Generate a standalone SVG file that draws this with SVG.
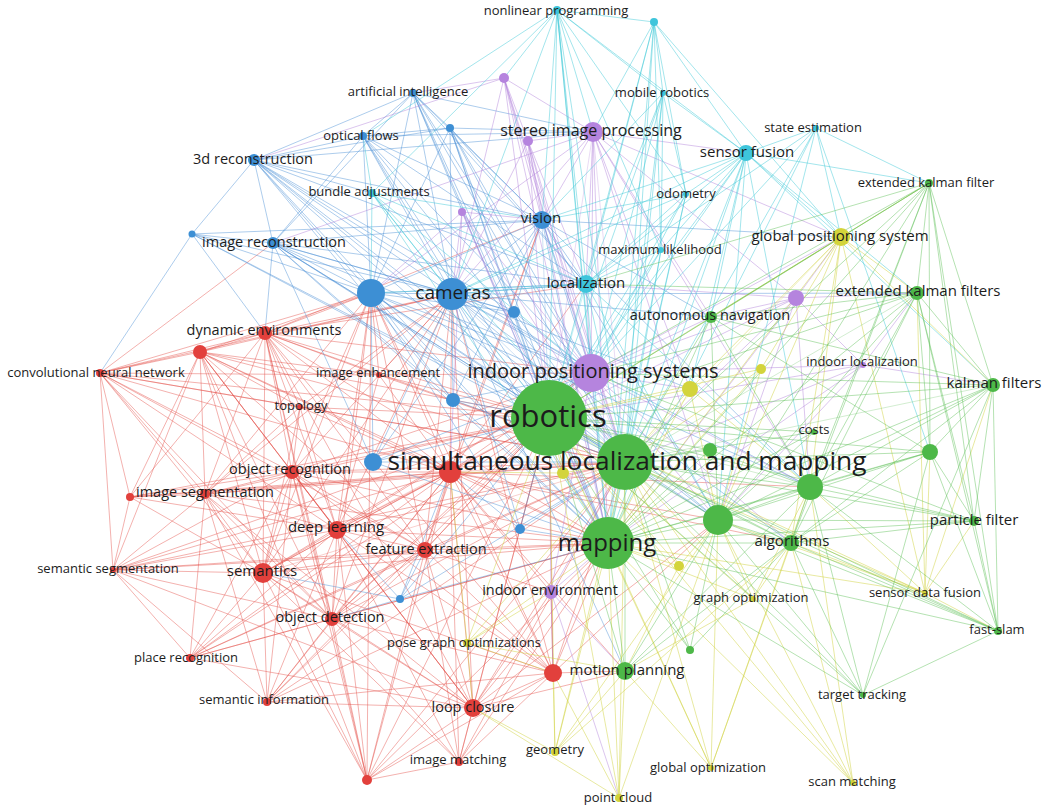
<svg xmlns="http://www.w3.org/2000/svg" width="1046" height="810" viewBox="0 0 1046 810">
<style>
.e path{fill:none;stroke-width:1}
.r path{stroke:#e5534b;stroke-opacity:.45}
.g path{stroke:#5cbf55;stroke-opacity:.45}
.b path{stroke:#4a8fd4;stroke-opacity:.45}
.y path{stroke:#cfd03a;stroke-opacity:.48}
.p path{stroke:#b07fd9;stroke-opacity:.45}
.c path{stroke:#3ec8d8;stroke-opacity:.48}
.th path{stroke-opacity:.28}
circle{stroke:none}
.nr{fill:#e2403c}.ng{fill:#4db848}.nb{fill:#3d8fd4}.ny{fill:#d3d43b}.np{fill:#b584de}.nc{fill:#3ec5db}
text{font-family:"Open Sans","Liberation Sans",sans-serif;fill:#1c1c1c;text-anchor:middle}
.t13{font-size:13px}.t14{font-size:14.5px}.t15{font-size:15px}.t16{font-size:16px}.t19{font-size:19px}.t20{font-size:20px}.t24{font-size:24px}.t26{font-size:26.3px}.t31{font-size:31px}
</style>
<rect width="1046" height="810" fill="#fff"/>
<g id="connectors" class="e">
<g class="r">
<path d="M100 373L200 352"/><path d="M100 373L265 333"/><path d="M100 373L379 375"/><path d="M100 373L292 472"/><path d="M100 373L205 494"/><path d="M100 373L130 497"/><path d="M100 373L113 570"/><path d="M100 373L337 530"/><path d="M100 373L263 573"/><path d="M100 373L332 619"/><path d="M100 373L450 472"/><path d="M100 373L549 418"/><path d="M100 373L625 462"/><path d="M100 373L300 407"/><path d="M100 373L425 550"/><path d="M100 373L273 243"/><path d="M100 373L452 294"/><path d="M100 373L371 293"/>
<path d="M113 570L130 497"/><path d="M113 570L205 494"/><path d="M113 570L263 573"/><path d="M113 570L337 530"/><path d="M113 570L292 472"/><path d="M113 570L332 619"/><path d="M113 570L190 658"/><path d="M113 570L267 702"/><path d="M113 570L450 472"/><path d="M113 570L549 418"/><path d="M113 570L625 462"/><path d="M113 570L608 543"/><path d="M113 570L425 550"/><path d="M113 570L200 352"/>
<path d="M190 658L263 573"/><path d="M190 658L337 530"/><path d="M190 658L332 619"/><path d="M190 658L205 494"/><path d="M190 658L450 472"/><path d="M190 658L625 462"/><path d="M190 658L549 418"/><path d="M190 658L473 708"/><path d="M190 658L425 550"/><path d="M190 658L608 543"/><path d="M190 658L292 472"/>
<path d="M267 702L263 573"/><path d="M267 702L332 619"/><path d="M267 702L337 530"/><path d="M267 702L205 494"/><path d="M267 702L450 472"/><path d="M267 702L549 418"/><path d="M267 702L625 462"/><path d="M267 702L292 472"/><path d="M267 702L425 550"/><path d="M267 702L473 708"/><path d="M267 702L608 543"/><path d="M267 702L553 673"/>
<path d="M367 780L263 573"/><path d="M367 780L337 530"/><path d="M367 780L332 619"/><path d="M367 780L450 472"/><path d="M367 780L549 418"/><path d="M367 780L625 462"/><path d="M367 780L608 543"/><path d="M367 780L425 550"/><path d="M367 780L473 708"/><path d="M367 780L459 762"/><path d="M367 780L205 494"/><path d="M367 780L292 472"/><path d="M367 780L200 352"/><path d="M367 780L371 293"/><path d="M367 780L553 673"/><path d="M367 780L265 333"/>
<path d="M459 762L473 708"/><path d="M459 762L450 472"/><path d="M459 762L625 462"/><path d="M459 762L549 418"/><path d="M459 762L608 543"/><path d="M459 762L425 550"/><path d="M459 762L332 619"/><path d="M459 762L337 530"/><path d="M459 762L263 573"/><path d="M459 762L553 673"/>
<path d="M473 708L450 472"/><path d="M473 708L625 462"/><path d="M473 708L549 418"/><path d="M473 708L608 543"/><path d="M473 708L425 550"/><path d="M473 708L337 530"/><path d="M473 708L332 619"/><path d="M473 708L263 573"/><path d="M473 708L553 673"/><path d="M473 708L625 671"/><path d="M473 708L551 592"/><path d="M473 708L452 294"/><path d="M473 708L200 352"/><path d="M473 708L265 333"/><path d="M473 708L292 472"/><path d="M473 708L113 570"/><path d="M473 708L205 494"/><path d="M473 708L718 520"/>
<path d="M553 673L625 462"/><path d="M553 673L549 418"/><path d="M553 673L608 543"/><path d="M553 673L450 472"/><path d="M553 673L337 530"/><path d="M553 673L425 550"/><path d="M553 673L332 619"/><path d="M553 673L263 573"/><path d="M553 673L625 671"/><path d="M553 673L551 592"/><path d="M553 673L452 294"/><path d="M553 673L371 293"/><path d="M553 673L292 472"/><path d="M553 673L265 333"/><path d="M553 673L718 520"/>
<path d="M332 619L263 573"/><path d="M332 619L337 530"/><path d="M332 619L450 472"/><path d="M332 619L425 550"/><path d="M332 619L292 472"/><path d="M332 619L205 494"/><path d="M332 619L549 418"/><path d="M332 619L625 462"/><path d="M332 619L608 543"/><path d="M332 619L452 294"/><path d="M332 619L591 373"/><path d="M332 619L371 293"/><path d="M332 619L265 333"/><path d="M332 619L200 352"/>
<path d="M263 573L337 530"/><path d="M263 573L450 472"/><path d="M263 573L292 472"/><path d="M263 573L205 494"/><path d="M263 573L265 333"/><path d="M263 573L200 352"/><path d="M263 573L549 418"/><path d="M263 573L608 543"/><path d="M263 573L425 550"/><path d="M263 573L452 294"/><path d="M263 573L371 293"/><path d="M263 573L591 373"/><path d="M263 573L300 407"/><path d="M263 573L130 497"/>
<path d="M337 530L450 472"/><path d="M337 530L292 472"/><path d="M337 530L205 494"/><path d="M337 530L425 550"/><path d="M337 530L265 333"/><path d="M337 530L200 352"/><path d="M337 530L625 462"/><path d="M337 530L608 543"/><path d="M337 530L452 294"/><path d="M337 530L371 293"/><path d="M337 530L591 373"/><path d="M337 530L300 407"/><path d="M337 530L379 375"/><path d="M337 530L130 497"/>
<path d="M425 550L450 472"/><path d="M425 550L549 418"/><path d="M425 550L625 462"/><path d="M425 550L608 543"/><path d="M425 550L452 294"/><path d="M425 550L371 293"/><path d="M425 550L591 373"/><path d="M425 550L265 333"/><path d="M425 550L292 472"/><path d="M425 550L551 592"/><path d="M425 550L542 220"/><path d="M425 550L200 352"/>
<path d="M205 494L292 472"/><path d="M205 494L450 472"/><path d="M205 494L200 352"/><path d="M205 494L265 333"/><path d="M205 494L130 497"/><path d="M205 494L549 418"/><path d="M205 494L625 462"/><path d="M205 494L452 294"/><path d="M205 494L371 293"/><path d="M205 494L300 407"/><path d="M205 494L608 543"/>
<path d="M130 497L200 352"/><path d="M130 497L265 333"/><path d="M130 497L292 472"/><path d="M130 497L450 472"/><path d="M130 497L549 418"/><path d="M130 497L625 462"/>
<path d="M292 472L450 472"/><path d="M292 472L265 333"/><path d="M292 472L200 352"/><path d="M292 472L549 418"/><path d="M292 472L625 462"/><path d="M292 472L608 543"/><path d="M292 472L452 294"/><path d="M292 472L371 293"/><path d="M292 472L591 373"/><path d="M292 472L300 407"/>
<path d="M300 407L450 472"/><path d="M300 407L549 418"/><path d="M300 407L625 462"/><path d="M300 407L265 333"/><path d="M300 407L200 352"/><path d="M300 407L452 294"/>
<path d="M379 375L265 333"/><path d="M379 375L200 352"/><path d="M379 375L549 418"/><path d="M379 375L625 462"/><path d="M379 375L452 294"/><path d="M379 375L371 293"/><path d="M379 375L450 472"/><path d="M379 375L591 373"/>
<path d="M265 333L200 352"/><path d="M265 333L450 472"/><path d="M265 333L549 418"/><path d="M265 333L625 462"/><path d="M265 333L608 543"/><path d="M265 333L452 294"/><path d="M265 333L371 293"/><path d="M265 333L591 373"/><path d="M265 333L542 220"/><path d="M265 333L586 284"/>
<path d="M200 352L450 472"/><path d="M200 352L549 418"/><path d="M200 352L625 462"/><path d="M200 352L608 543"/><path d="M200 352L452 294"/><path d="M200 352L371 293"/>
<path d="M450 472L608 543"/><path d="M450 472L452 294"/><path d="M450 472L371 293"/><path d="M450 472L591 373"/><path d="M450 472L542 220"/><path d="M450 472L586 284"/><path d="M450 472L551 592"/><path d="M450 472L625 671"/><path d="M450 472L718 520"/><path d="M450 472L810 487"/><path d="M450 472L791 543"/>
</g>
<g class="b">
<path d="M192 234L254 160"/><path d="M192 234L273 243"/><path d="M192 234L371 293"/><path d="M192 234L452 294"/><path d="M192 234L549 418"/><path d="M192 234L625 462"/><path d="M192 234L542 220"/><path d="M192 234L265 333"/><path d="M192 234L100 373"/>
<path d="M273 243L254 160"/><path d="M273 243L371 293"/><path d="M273 243L452 294"/><path d="M273 243L542 220"/><path d="M273 243L549 418"/><path d="M273 243L625 462"/><path d="M273 243L608 543"/><path d="M273 243L363 136"/><path d="M273 243L413 93"/><path d="M273 243L453 400"/><path d="M273 243L373 462"/><path d="M273 243L591 373"/><path d="M273 243L265 333"/><path d="M273 243L586 284"/><path d="M273 243L514 312"/><path d="M273 243L718 520"/>
<path d="M254 160L363 136"/><path d="M254 160L413 93"/><path d="M254 160L371 293"/><path d="M254 160L452 294"/><path d="M254 160L542 220"/><path d="M254 160L549 418"/><path d="M254 160L625 462"/><path d="M254 160L608 543"/><path d="M254 160L591 373"/><path d="M254 160L450 128"/><path d="M254 160L372 193"/><path d="M254 160L514 312"/><path d="M254 160L586 284"/><path d="M254 160L593 132"/><path d="M254 160L453 400"/><path d="M254 160L718 520"/>
<path d="M363 136L413 93"/><path d="M363 136L371 293"/><path d="M363 136L452 294"/><path d="M363 136L542 220"/><path d="M363 136L549 418"/><path d="M363 136L625 462"/><path d="M363 136L450 128"/><path d="M363 136L591 373"/><path d="M363 136L608 543"/><path d="M363 136L586 284"/><path d="M363 136L593 132"/>
<path d="M413 93L371 293"/><path d="M413 93L452 294"/><path d="M413 93L542 220"/><path d="M413 93L549 418"/><path d="M413 93L625 462"/><path d="M413 93L608 543"/><path d="M413 93L591 373"/><path d="M413 93L450 128"/><path d="M413 93L586 284"/><path d="M413 93L514 312"/><path d="M413 93L593 132"/>
<path d="M450 128L452 294"/><path d="M450 128L542 220"/><path d="M450 128L549 418"/><path d="M450 128L625 462"/><path d="M450 128L371 293"/><path d="M450 128L608 543"/><path d="M450 128L591 373"/><path d="M450 128L586 284"/><path d="M450 128L514 312"/><path d="M450 128L593 132"/>
<path d="M542 220L452 294"/><path d="M542 220L371 293"/><path d="M542 220L625 462"/><path d="M542 220L608 543"/><path d="M542 220L591 373"/><path d="M542 220L586 284"/><path d="M542 220L514 312"/><path d="M542 220L453 400"/><path d="M542 220L373 462"/><path d="M542 220L718 520"/><path d="M542 220L810 487"/><path d="M542 220L711 317"/><path d="M542 220L841 237"/>
<path d="M452 294L371 293"/><path d="M452 294L608 543"/><path d="M452 294L591 373"/><path d="M452 294L586 284"/><path d="M452 294L453 400"/><path d="M452 294L373 462"/><path d="M452 294L514 312"/><path d="M452 294L520 529"/><path d="M452 294L718 520"/><path d="M452 294L810 487"/><path d="M452 294L711 317"/><path d="M452 294L690 389"/><path d="M452 294L791 543"/><path d="M452 294L625 671"/><path d="M452 294L917 293"/>
<path d="M371 293L625 462"/><path d="M371 293L608 543"/><path d="M371 293L591 373"/><path d="M371 293L453 400"/><path d="M371 293L373 462"/><path d="M371 293L586 284"/><path d="M371 293L514 312"/><path d="M371 293L520 529"/><path d="M371 293L718 520"/><path d="M371 293L810 487"/>
<path d="M453 400L549 418"/><path d="M453 400L625 462"/><path d="M453 400L608 543"/><path d="M453 400L591 373"/>
<path d="M373 462L549 418"/><path d="M373 462L625 462"/><path d="M373 462L608 543"/><path d="M373 462L591 373"/>
<path d="M514 312L549 418"/><path d="M514 312L625 462"/><path d="M514 312L608 543"/><path d="M514 312L591 373"/>
<path d="M520 529L549 418"/><path d="M520 529L625 462"/><path d="M520 529L608 543"/><path d="M520 529L450 472"/>
<path d="M400 599L608 543"/><path d="M400 599L549 418"/><path d="M400 599L625 462"/><path d="M400 599L425 550"/><path d="M400 599L332 619"/><path d="M400 599L263 573"/><path d="M400 599L450 472"/><path d="M400 599L337 530"/>
</g>
<g class="p">
<path d="M504 78L593 132"/><path d="M504 78L528 141"/><path d="M504 78L542 220"/><path d="M504 78L452 294"/><path d="M504 78L549 418"/><path d="M504 78L591 373"/><path d="M504 78L625 462"/><path d="M504 78L413 93"/><path d="M504 78L608 543"/><path d="M504 78L254 160"/>
<path d="M528 141L593 132"/><path d="M528 141L542 220"/><path d="M528 141L452 294"/><path d="M528 141L549 418"/><path d="M528 141L625 462"/><path d="M528 141L591 373"/><path d="M528 141L608 543"/><path d="M528 141L586 284"/>
<path d="M593 132L542 220"/><path d="M593 132L591 373"/><path d="M593 132L608 543"/><path d="M593 132L452 294"/><path d="M593 132L586 284"/><path d="M593 132L371 293"/><path d="M593 132L746 153"/><path d="M593 132L841 237"/><path d="M593 132L718 520"/><path d="M593 132L810 487"/><path d="M593 132L796 298"/><path d="M593 132L711 317"/><path d="M593 132L273 243"/><path d="M593 132L690 389"/>
<path d="M462 212L542 220"/><path d="M462 212L549 418"/><path d="M462 212L625 462"/><path d="M462 212L591 373"/><path d="M462 212L452 294"/><path d="M462 212L608 543"/><path d="M462 212L371 293"/><path d="M462 212L450 472"/>
<path d="M591 373L608 543"/><path d="M591 373L796 298"/><path d="M591 373L551 592"/><path d="M591 373L586 284"/><path d="M591 373L841 237"/><path d="M591 373L718 520"/><path d="M591 373L810 487"/><path d="M591 373L711 317"/><path d="M591 373L690 389"/><path d="M591 373L791 543"/><path d="M591 373L863 365"/>
<path d="M796 298L549 418"/><path d="M796 298L625 462"/><path d="M796 298L608 543"/><path d="M796 298L841 237"/><path d="M796 298L917 293"/><path d="M796 298L586 284"/><path d="M796 298L863 365"/><path d="M796 298L711 317"/><path d="M796 298L718 520"/><path d="M796 298L810 487"/>
<path d="M863 365L625 462"/><path d="M863 365L549 418"/><path d="M863 365L608 543"/><path d="M863 365L993 385"/><path d="M863 365L917 293"/><path d="M863 365L718 520"/>
<path d="M551 592L608 543"/><path d="M551 592L625 462"/><path d="M551 592L549 418"/><path d="M551 592L625 671"/><path d="M551 592L553 673"/><path d="M551 592L619 798"/>
</g>
<g class="c">
<path d="M557 10L654 22"/><path d="M557 10L593 132"/><path d="M557 10L663 93"/><path d="M557 10L586 284"/><path d="M557 10L542 220"/><path d="M557 10L549 418"/><path d="M557 10L625 462"/><path d="M557 10L746 153"/><path d="M557 10L686 194"/><path d="M557 10L608 543"/><path d="M557 10L591 373"/><path d="M557 10L452 294"/><path d="M557 10L504 78"/><path d="M557 10L363 136"/><path d="M557 10L661 250"/><path d="M557 10L372 193"/>
<path d="M654 22L663 93"/><path d="M654 22L746 153"/><path d="M654 22L686 194"/><path d="M654 22L586 284"/><path d="M654 22L549 418"/><path d="M654 22L625 462"/><path d="M654 22L841 237"/><path d="M654 22L593 132"/><path d="M654 22L608 543"/><path d="M654 22L661 250"/>
<path d="M663 93L746 153"/><path d="M663 93L586 284"/><path d="M663 93L549 418"/><path d="M663 93L625 462"/><path d="M663 93L608 543"/><path d="M663 93L686 194"/><path d="M663 93L591 373"/><path d="M663 93L661 250"/><path d="M663 93L542 220"/>
<path d="M816 128L746 153"/><path d="M816 128L586 284"/><path d="M816 128L549 418"/><path d="M816 128L625 462"/><path d="M816 128L608 543"/><path d="M816 128L841 237"/><path d="M816 128L929 183"/><path d="M816 128L718 520"/><path d="M816 128L930 452"/>
<path d="M746 153L586 284"/><path d="M746 153L549 418"/><path d="M746 153L625 462"/><path d="M746 153L608 543"/><path d="M746 153L841 237"/><path d="M746 153L591 373"/><path d="M746 153L686 194"/><path d="M746 153L718 520"/><path d="M746 153L810 487"/><path d="M746 153L917 293"/><path d="M746 153L993 385"/><path d="M746 153L711 317"/><path d="M746 153L452 294"/><path d="M746 153L542 220"/><path d="M746 153L661 250"/><path d="M746 153L690 389"/><path d="M746 153L929 183"/>
<path d="M686 194L586 284"/><path d="M686 194L549 418"/><path d="M686 194L625 462"/><path d="M686 194L608 543"/><path d="M686 194L542 220"/><path d="M686 194L452 294"/><path d="M686 194L591 373"/>
<path d="M661 250L586 284"/><path d="M661 250L549 418"/><path d="M661 250L625 462"/><path d="M661 250L608 543"/><path d="M661 250L591 373"/>
<path d="M586 284L625 462"/><path d="M586 284L608 543"/><path d="M586 284L452 294"/><path d="M586 284L371 293"/><path d="M586 284L718 520"/><path d="M586 284L810 487"/>
<path d="M372 193L452 294"/><path d="M372 193L371 293"/><path d="M372 193L542 220"/><path d="M372 193L549 418"/><path d="M372 193L625 462"/><path d="M372 193L586 284"/><path d="M372 193L608 543"/><path d="M372 193L363 136"/><path d="M372 193L591 373"/>
</g>
<g class="y">
<path d="M841 237L549 418"/><path d="M841 237L608 543"/><path d="M841 237L718 520"/><path d="M841 237L810 487"/><path d="M841 237L917 293"/><path d="M841 237L929 183"/><path d="M841 237L993 385"/><path d="M841 237L690 389"/><path d="M841 237L711 317"/><path d="M841 237L925 593"/><path d="M841 237L761 369"/><path d="M841 237L791 543"/>
<path d="M690 389L549 418"/><path d="M690 389L625 462"/><path d="M690 389L608 543"/><path d="M690 389L718 520"/><path d="M690 389L810 487"/>
<path d="M761 369L549 418"/><path d="M761 369L625 462"/><path d="M761 369L608 543"/><path d="M761 369L718 520"/>
<path d="M563 473L549 418"/><path d="M563 473L625 462"/><path d="M563 473L608 543"/><path d="M563 473L450 472"/>
<path d="M679 566L608 543"/><path d="M679 566L625 462"/><path d="M679 566L549 418"/><path d="M679 566L625 671"/><path d="M679 566L718 520"/>
<path d="M753 599L608 543"/><path d="M753 599L625 462"/><path d="M753 599L549 418"/><path d="M753 599L718 520"/><path d="M753 599L810 487"/><path d="M753 599L791 543"/><path d="M753 599L625 671"/>
<path d="M925 593L718 520"/><path d="M925 593L810 487"/><path d="M925 593L791 543"/><path d="M925 593L608 543"/><path d="M925 593L625 462"/><path d="M925 593L549 418"/><path d="M925 593L993 385"/><path d="M925 593L917 293"/><path d="M925 593L974 521"/><path d="M925 593L998 631"/><path d="M925 593L930 452"/>
<path d="M467 643L608 543"/><path d="M467 643L625 462"/><path d="M467 643L549 418"/><path d="M467 643L473 708"/><path d="M467 643L553 673"/><path d="M467 643L625 671"/><path d="M467 643L551 592"/><path d="M467 643L450 472"/>
<path d="M555 752L608 543"/><path d="M555 752L625 462"/><path d="M555 752L549 418"/><path d="M555 752L625 671"/><path d="M555 752L553 673"/><path d="M555 752L473 708"/><path d="M555 752L718 520"/><path d="M555 752L791 543"/>
<path d="M711 768L608 543"/><path d="M711 768L625 462"/><path d="M711 768L549 418"/><path d="M711 768L718 520"/><path d="M711 768L625 671"/><path d="M711 768L791 543"/><path d="M711 768L810 487"/>
<path d="M619 798L608 543"/><path d="M619 798L625 462"/><path d="M619 798L549 418"/><path d="M619 798L625 671"/><path d="M619 798L553 673"/><path d="M619 798L473 708"/><path d="M619 798L718 520"/>
<path d="M853 783L718 520"/><path d="M853 783L608 543"/><path d="M853 783L625 462"/><path d="M853 783L549 418"/><path d="M853 783L791 543"/><path d="M853 783L810 487"/>
</g>
<g class="g">
<path d="M929 183L917 293"/><path d="M929 183L993 385"/><path d="M929 183L810 487"/><path d="M929 183L718 520"/><path d="M929 183L625 462"/><path d="M929 183L549 418"/><path d="M929 183L608 543"/><path d="M929 183L930 452"/><path d="M929 183L974 521"/><path d="M929 183L711 317"/><path d="M929 183L791 543"/><path d="M929 183L586 284"/><path d="M929 183L591 373"/><path d="M929 183L998 631"/>
<path d="M917 293L993 385"/><path d="M917 293L549 418"/><path d="M917 293L608 543"/><path d="M917 293L718 520"/><path d="M917 293L810 487"/><path d="M917 293L930 452"/><path d="M917 293L791 543"/><path d="M917 293L974 521"/><path d="M917 293L711 317"/><path d="M917 293L998 631"/><path d="M917 293L586 284"/><path d="M917 293L591 373"/>
<path d="M993 385L549 418"/><path d="M993 385L608 543"/><path d="M993 385L718 520"/><path d="M993 385L810 487"/><path d="M993 385L930 452"/><path d="M993 385L791 543"/><path d="M993 385L974 521"/><path d="M993 385L998 631"/><path d="M993 385L863 695"/><path d="M993 385L591 373"/><path d="M993 385L711 317"/>
<path d="M930 452L549 418"/><path d="M930 452L625 462"/><path d="M930 452L608 543"/><path d="M930 452L718 520"/><path d="M930 452L810 487"/><path d="M930 452L974 521"/><path d="M930 452L791 543"/><path d="M930 452L998 631"/><path d="M930 452L863 695"/><path d="M930 452L711 317"/>
<path d="M974 521L625 462"/><path d="M974 521L549 418"/><path d="M974 521L608 543"/><path d="M974 521L718 520"/><path d="M974 521L810 487"/><path d="M974 521L791 543"/><path d="M974 521L998 631"/><path d="M974 521L591 373"/>
<path d="M998 631L810 487"/><path d="M998 631L718 520"/><path d="M998 631L791 543"/><path d="M998 631L625 462"/><path d="M998 631L608 543"/><path d="M998 631L549 418"/><path d="M998 631L863 695"/>
<path d="M863 695L718 520"/><path d="M863 695L810 487"/><path d="M863 695L791 543"/><path d="M863 695L625 462"/><path d="M863 695L608 543"/><path d="M863 695L549 418"/>
<path d="M791 543L549 418"/><path d="M791 543L625 462"/><path d="M791 543L608 543"/><path d="M791 543L718 520"/><path d="M791 543L810 487"/>
<path d="M718 520L608 543"/><path d="M718 520L810 487"/><path d="M810 487L625 462"/><path d="M810 487L608 543"/>
<path d="M710 450L549 418"/><path d="M710 450L625 462"/><path d="M710 450L608 543"/><path d="M710 450L810 487"/>
<path d="M711 317L625 462"/><path d="M711 317L608 543"/><path d="M711 317L718 520"/><path d="M711 317L810 487"/>
<path d="M814 432L549 418"/><path d="M814 432L625 462"/><path d="M814 432L608 543"/><path d="M814 432L718 520"/>
<path d="M625 671L608 543"/><path d="M625 671L625 462"/><path d="M625 671L549 418"/><path d="M625 671L718 520"/><path d="M625 671L810 487"/><path d="M625 671L791 543"/>
<path d="M690 650L608 543"/><path d="M690 650L625 462"/><path d="M690 650L549 418"/><path d="M690 650L718 520"/><path d="M690 650L791 543"/>
</g>
<g class="g th">
<path d="M549 418L625 462" stroke-width="6"/><path d="M549 418L608 543" stroke-width="6"/><path d="M625 462L608 543" stroke-width="5"/><path d="M711 317L549 418" stroke-width="3"/><path d="M718 520L625 462" stroke-width="3"/><path d="M718 520L549 418" stroke-width="3"/><path d="M810 487L549 418" stroke-width="3"/><path d="M917 293L625 462" stroke-width="3"/><path d="M993 385L625 462" stroke-width="3"/>
</g>
<g class="p th">
<path d="M591 373L549 418" stroke-width="4"/><path d="M591 373L625 462" stroke-width="4"/><path d="M593 132L549 418" stroke-width="5"/><path d="M593 132L625 462" stroke-width="5"/>
</g>
<g class="b th">
<path d="M452 294L549 418" stroke-width="4"/><path d="M452 294L625 462" stroke-width="3"/><path d="M371 293L549 418" stroke-width="3"/><path d="M542 220L549 418" stroke-width="3"/>
</g>
<g class="r th">
<path d="M450 472L549 418" stroke-width="3"/><path d="M450 472L625 462" stroke-width="3"/><path d="M263 573L625 462" stroke-width="2.5"/><path d="M337 530L549 418" stroke-width="2.5"/>
</g>
<g class="y th"><path d="M841 237L625 462" stroke-width="3"/></g>
<g class="c th"><path d="M586 284L549 418" stroke-width="3"/></g>
</g>
<g id="nodes">
<g id="n-nonlinear-programming"><circle class="nc" cx="557" cy="10" r="4"/><text class="t13" x="556" y="15">nonlinear programming</text></g>
<g id="n-c1"><circle class="nc" cx="654" cy="22" r="4"/></g>
<g id="n-mobile-robotics"><circle class="nc" cx="663" cy="93" r="3"/><text class="t13" x="662" y="97">mobile robotics</text></g>
<g id="n-state-estimation"><circle class="nc" cx="816" cy="128" r="3"/><text class="t13" x="813" y="132">state estimation</text></g>
<g id="n-odometry"><circle class="nc" cx="686" cy="194" r="3"/><text class="t13" x="686" y="198">odometry</text></g>
<g id="n-maximum-likelihood"><circle class="nc" cx="661" cy="250" r="3"/><text class="t13" x="660" y="254">maximum likelihood</text></g>
<g id="n-bundle-adjustments"><circle class="nc" cx="372" cy="193" r="4"/><text class="t13" x="369" y="196">bundle adjustments</text></g>
<g id="n-p2"><circle class="np" cx="504" cy="78" r="5"/></g>
<g id="n-p1"><circle class="np" cx="528" cy="141" r="5"/></g>
<g id="n-p3"><circle class="np" cx="462" cy="212" r="4"/></g>
<g id="n-artificial-intelligence"><circle class="nb" cx="413" cy="93" r="4"/><text class="t13" x="408" y="96">artificial intelligence</text></g>
<g id="n-b7"><circle class="nb" cx="450" cy="128" r="4"/></g>
<g id="n-optical-flows"><circle class="nb" cx="363" cy="136" r="4"/><text class="t13" x="361" y="140">optical flows</text></g>
<g id="n-3d-reconstruction"><circle class="nb" cx="254" cy="160" r="6"/><text class="t14" x="253" y="164">3d reconstruction</text></g>
<g id="n-b8"><circle class="nb" cx="192" cy="234" r="3.5"/></g>
<g id="n-image-reconstruction"><circle class="nb" cx="273" cy="243" r="6"/><text class="t14" x="274" y="247">image reconstruction</text></g>
<g id="n-b4"><circle class="nb" cx="514" cy="312" r="6"/></g>
<g id="n-b2"><circle class="nb" cx="453" cy="400" r="7"/></g>
<g id="n-b3"><circle class="nb" cx="373" cy="462" r="9"/></g>
<g id="n-b5"><circle class="nb" cx="520" cy="529" r="5"/></g>
<g id="n-b6"><circle class="nb" cx="400" cy="599" r="4"/></g>
<g id="n-b1"><circle class="nb" cx="371" cy="293" r="14"/></g>
<g id="n-vision"><circle class="nb" cx="542" cy="220" r="9"/><text class="t15" x="541" y="223">vision</text></g>
<g id="n-stereo-image-processing"><circle class="np" cx="593" cy="132" r="10"/><text class="t16" x="591" y="136">stereo image processing</text></g>
<g id="n-sensor-fusion"><circle class="nc" cx="746" cy="153" r="8"/><text class="t15" x="747" y="157">sensor fusion</text></g>
<g id="n-localization"><circle class="nc" cx="586" cy="284" r="9"/><text class="t15" x="586" y="288">localization</text></g>
<g id="n-p4"><circle class="np" cx="796" cy="298" r="8"/></g>
<g id="n-indoor-localization"><circle class="np" cx="863" cy="365" r="3"/><text class="t13" x="862" y="366">indoor localization</text></g>
<g id="n-indoor-environment"><circle class="np" cx="551" cy="592" r="7"/><text class="t14" x="550" y="595">indoor environment</text></g>
<g id="n-global-positioning-system"><circle class="ny" cx="841" cy="237" r="9"/><text class="t15" x="840" y="241">global positioning system</text></g>
<g id="n-y1"><circle class="ny" cx="690" cy="389" r="8"/></g>
<g id="n-y2"><circle class="ny" cx="761" cy="369" r="5"/></g>
<g id="n-y3"><circle class="ny" cx="563" cy="473" r="6"/></g>
<g id="n-y4"><circle class="ny" cx="679" cy="566" r="5"/></g>
<g id="n-graph-optimization"><circle class="ny" cx="753" cy="599" r="3"/><text class="t13" x="751" y="602">graph optimization</text></g>
<g id="n-sensor-data-fusion"><circle class="ny" cx="925" cy="593" r="3"/><text class="t13" x="925" y="597">sensor data fusion</text></g>
<g id="n-pose-graph-optimizations"><circle class="ny" cx="467" cy="643" r="4"/><text class="t13" x="464" y="647">pose graph optimizations</text></g>
<g id="n-geometry"><circle class="ny" cx="555" cy="752" r="4"/><text class="t13" x="555" y="754">geometry</text></g>
<g id="n-global-optimization"><circle class="ny" cx="711" cy="768" r="3"/><text class="t13" x="708" y="772">global optimization</text></g>
<g id="n-point-cloud"><circle class="ny" cx="619" cy="798" r="4"/><text class="t13" x="618" y="802">point cloud</text></g>
<g id="n-scan-matching"><circle class="ny" cx="853" cy="783" r="3"/><text class="t13" x="852" y="786">scan matching</text></g>
<g id="n-extended-kalman-filter"><circle class="ng" cx="929" cy="183" r="4"/><text class="t13" x="926" y="187">extended kalman filter</text></g>
<g id="n-extended-kalman-filters"><circle class="ng" cx="917" cy="293" r="7"/><text class="t15" x="918" y="296">extended kalman filters</text></g>
<g id="n-autonomous-navigation"><circle class="ng" cx="711" cy="317" r="6"/><text class="t14" x="710" y="320">autonomous navigation</text></g>
<g id="n-kalman-filters"><circle class="ng" cx="993" cy="385" r="7"/><text class="t15" x="994" y="388">kalman filters</text></g>
<g id="n-g4"><circle class="ng" cx="710" cy="450" r="7"/></g>
<g id="n-g3"><circle class="ng" cx="930" cy="452" r="8"/></g>
<g id="n-costs"><circle class="ng" cx="814" cy="432" r="3"/><text class="t13" x="814" y="434">costs</text></g>
<g id="n-g2"><circle class="ng" cx="810" cy="487" r="13"/></g>
<g id="n-g1"><circle class="ng" cx="718" cy="520" r="15"/></g>
<g id="n-particle-filter"><circle class="ng" cx="974" cy="521" r="5"/><text class="t15" x="974" y="525">particle filter</text></g>
<g id="n-algorithms"><circle class="ng" cx="791" cy="543" r="8"/><text class="t15" x="792" y="546">algorithms</text></g>
<g id="n-fast-slam"><circle class="ng" cx="998" cy="631" r="4"/><text class="t13" x="997" y="634">fast-slam</text></g>
<g id="n-target-tracking"><circle class="ng" cx="863" cy="695" r="3"/><text class="t13" x="862" y="699">target tracking</text></g>
<g id="n-g5"><circle class="ng" cx="690" cy="650" r="4"/></g>
<g id="n-motion-planning"><circle class="ng" cx="625" cy="671" r="9"/><text class="t15" x="627" y="675">motion planning</text></g>
<g id="n-r5"><circle class="nr" cx="553" cy="673" r="9"/></g>
<g id="n-r1"><circle class="nr" cx="200" cy="352" r="7"/></g>
<g id="n-dynamic-environments"><circle class="nr" cx="265" cy="333" r="7"/><text class="t14" x="264" y="335">dynamic environments</text></g>
<g id="n-convolutional-neural-network"><circle class="nr" cx="100" cy="373" r="4"/><text class="t13" x="96" y="377">convolutional neural network</text></g>
<g id="n-image-enhancement"><circle class="nr" cx="379" cy="375" r="3"/><text class="t13" x="378" y="377">image enhancement</text></g>
<g id="n-topology"><circle class="nr" cx="300" cy="407" r="3"/><text class="t13" x="301" y="410">topology</text></g>
<g id="n-r2"><circle class="nr" cx="450" cy="472" r="11"/></g>
<g id="n-object-recognition"><circle class="nr" cx="292" cy="472" r="7"/><text class="t14" x="290" y="474">object recognition</text></g>
<g id="n-r3"><circle class="nr" cx="130" cy="497" r="4"/></g>
<g id="n-image-segmentation"><circle class="nr" cx="205" cy="494" r="5"/><text class="t14" x="205" y="497">image segmentation</text></g>
<g id="n-deep-learning"><circle class="nr" cx="337" cy="530" r="9"/><text class="t15" x="336" y="532">deep learning</text></g>
<g id="n-feature-extraction"><circle class="nr" cx="425" cy="550" r="8"/><text class="t14" x="426" y="554">feature extraction</text></g>
<g id="n-semantics"><circle class="nr" cx="263" cy="573" r="10"/><text class="t15" x="262" y="576">semantics</text></g>
<g id="n-semantic-segmentation"><circle class="nr" cx="113" cy="570" r="3"/><text class="t13" x="108" y="573">semantic segmentation</text></g>
<g id="n-object-detection"><circle class="nr" cx="332" cy="619" r="7"/><text class="t14" x="330" y="622">object detection</text></g>
<g id="n-place-recognition"><circle class="nr" cx="190" cy="658" r="4"/><text class="t13" x="186" y="662">place recognition</text></g>
<g id="n-semantic-information"><circle class="nr" cx="267" cy="702" r="4"/><text class="t13" x="264" y="704">semantic information</text></g>
<g id="n-loop-closure"><circle class="nr" cx="473" cy="708" r="9"/><text class="t14" x="473" y="712">loop closure</text></g>
<g id="n-image-matching"><circle class="nr" cx="459" cy="762" r="4"/><text class="t13" x="458" y="764">image matching</text></g>
<g id="n-r4"><circle class="nr" cx="367" cy="780" r="5"/></g>
<g id="n-cameras"><circle class="nb" cx="452" cy="294" r="16"/><text class="t19" x="453" y="299">cameras</text></g>
<g id="n-robotics"><circle class="ng" cx="549" cy="418" r="38"/><text class="t31" x="548" y="427">robotics</text></g>
<g id="n-indoor-positioning-systems"><circle class="np" cx="591" cy="373" r="19"/><text class="t20" x="593" y="378">indoor positioning systems</text></g>
<g id="n-slam"><circle class="ng" cx="625" cy="462" r="28"/><text class="t26" x="627" y="470">simultaneous localization and mapping</text></g>
<g id="n-mapping"><circle class="ng" cx="608" cy="543" r="26"/><text class="t24" x="607" y="551">mapping</text></g>
</g>
</svg>
